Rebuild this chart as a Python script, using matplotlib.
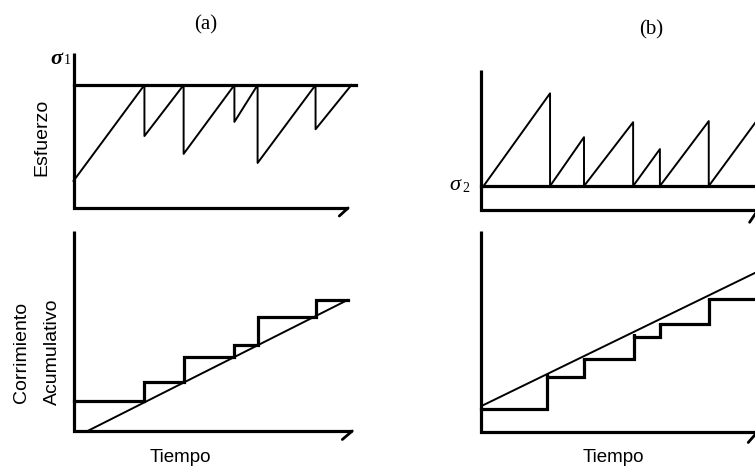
import matplotlib
matplotlib.use('Agg')
import matplotlib.pyplot as plt

# ---- data (time in arbitrary units 0..10) ----

# (a) stress held at sigma1, failures drop it
sigma1 = 1.0
t_fail_a = [2.57, 3.99, 5.83, 6.67, 8.77]
stress_after_a = [0.585, 0.44, 0.70, 0.366, 0.64]
stress_start_a = 0.22
t_end_a = 10.07

# (a) cumulative slip, one step per failure
slip_t_a = [2.57, 3.99, 5.83, 6.67, 8.77]
slip_levels_a = [0.61, 0.99, 1.49, 1.73, 2.29, 2.62]
slip_end_a = 9.93
trend_t_a = [0.51, 9.93]
trend_slip_a = [0.0, 2.62]

# (b) stress reloads from sigma2
sigma2 = 0.195
t_start_b = 0.11
t_fail_b = [2.52, 3.75, 5.53, 6.50, 8.27]
stress_peak_b = [0.95, 0.593, 0.715, 0.496, 0.724]
t_end_b = 10.05
stress_end_b = 0.74

# (b) cumulative slip
slip_t_b = [2.42, 3.74, 5.55, 6.50, 8.27]
slip_top_b = [1.15, 1.48, 1.95, 2.18, 2.68]
slip_levels_b = [0.45, 1.10, 1.45, 1.90, 2.15, 2.65]
slip_end_b = 10.05
trend_t_b = [0.11, 10.05]
trend_slip_b = [0.53, 3.20]

W, H = 755, 467
fig = plt.figure(figsize=(W / 100, H / 100), dpi=100)
fig.patch.set_facecolor('white')

AXLW = 2.3
THIN = 1.4
sans = 'Liberation Sans'
serif = 'Liberation Serif'


def make_axes(left, right, bottom, top, ytop, xend, hook):
    # box given in image pixels
    ax = fig.add_axes([left / W, 1 - bottom / H, (right - left) / W, (bottom - top) / H])
    ax.set_xlim(0, 10)
    ax.set_ylim(0, ytop)
    ax.axis('off')
    ax.plot([0, 0, xend], [ytop, 0, 0], color='black', lw=AXLW,
            solid_joinstyle='miter', solid_capstyle='butt', clip_on=False)
    ax.plot([xend, xend - hook[0]], [0, -hook[1]], color='black', lw=2.0,
            solid_capstyle='round', clip_on=False)
    return ax


def fig_text(x, y, s, **kw):
    fig.text(x / W, 1 - y / H, s, **kw)


# --- (a) stress ---
ax1 = make_axes(73.5, 349.5, 208, 53, 1.26, 9.95, (0.32, 0.065))
xs = [0.0]
ys = [stress_start_a]
for t, s in zip(t_fail_a, stress_after_a):
    xs += [t, t]
    ys += [sigma1, s]
xs.append(t_end_a)
ys.append(sigma1)
ax1.plot(xs, ys, color='black', lw=THIN, clip_on=False)
ax1.plot([0, 10.25], [sigma1, sigma1], color='black', lw=AXLW, clip_on=False)

# --- (a) slip ---
ax2 = make_axes(73.5, 349.5, 431, 231, 4.0, 10.1, (0.36, 0.17))
xs = [0.0]
ys = [slip_levels_a[0]]
for i, t in enumerate(slip_t_a):
    xs += [t, t]
    ys += [slip_levels_a[i], slip_levels_a[i + 1]]
xs.append(slip_end_a)
ys.append(slip_levels_a[-1])
ax2.plot(xs, ys, color='black', lw=AXLW, solid_joinstyle='miter', clip_on=False)
ax2.plot(trend_t_a, trend_slip_a, color='black', lw=THIN, clip_on=False)

# --- (b) stress ---
ax3 = make_axes(480.5, 756.5, 210, 70, 1.14, 10.05, (0.3, 0.1))
xs = [t_start_b]
ys = [sigma2]
for t, s in zip(t_fail_b, stress_peak_b):
    xs += [t, t]
    ys += [s, sigma2]
xs.append(t_end_b)
ys.append(stress_end_b)
ax3.plot(xs, ys, color='black', lw=THIN, clip_on=False)
ax3.plot([0, 10.2], [sigma2, sigma2], color='black', lw=AXLW, clip_on=False)

# --- (b) slip ---
ax4 = make_axes(480.5, 756.5, 431.5, 231, 4.01, 10.05, (0.35, 0.22))
xs = [0.0]
ys = [slip_levels_b[0]]
for i, t in enumerate(slip_t_b):
    xs += [t, t, t]
    ys += [slip_levels_b[i], slip_top_b[i], slip_levels_b[i + 1]]
xs.append(slip_end_b)
ys.append(slip_levels_b[-1])
ax4.plot(xs, ys, color='black', lw=AXLW, solid_joinstyle='miter', clip_on=False)
ax4.plot(trend_t_b, trend_slip_b, color='black', lw=THIN, clip_on=False)

# ---- labels ----
fig_text(206, 25, '(a)', family=serif, fontsize=15, ha='center', va='center')
fig_text(651, 30, '(b)', family=serif, fontsize=15, ha='center', va='center')

fig_text(56, 59, 'σ', family=serif, fontsize=16, style='italic', weight='bold',
         ha='center', va='center')
fig_text(67, 61, '1', family=serif, fontsize=10, ha='center', va='center')
fig_text(455, 185, 'σ', family=serif, fontsize=16, style='italic',
         ha='center', va='center')
fig_text(466, 189, '2', family=serif, fontsize=10, ha='center', va='center')

fig_text(42, 137, 'Esfuerzo', family=sans, fontsize=14, rotation=90,
         ha='center', va='center')
fig_text(22, 352, 'Corrimiento', family=sans, fontsize=14, rotation=90,
         ha='center', va='center')
fig_text(52, 352, 'Acumulativo', family=sans, fontsize=14, rotation=90,
         ha='center', va='center')

fig_text(180, 462, 'Tiempo', family=sans, fontsize=13.5, ha='center', va='baseline')
fig_text(613, 462, 'Tiempo', family=sans, fontsize=13.5, ha='center', va='baseline')

fig.savefig('out.png', dpi=100, facecolor='white')
